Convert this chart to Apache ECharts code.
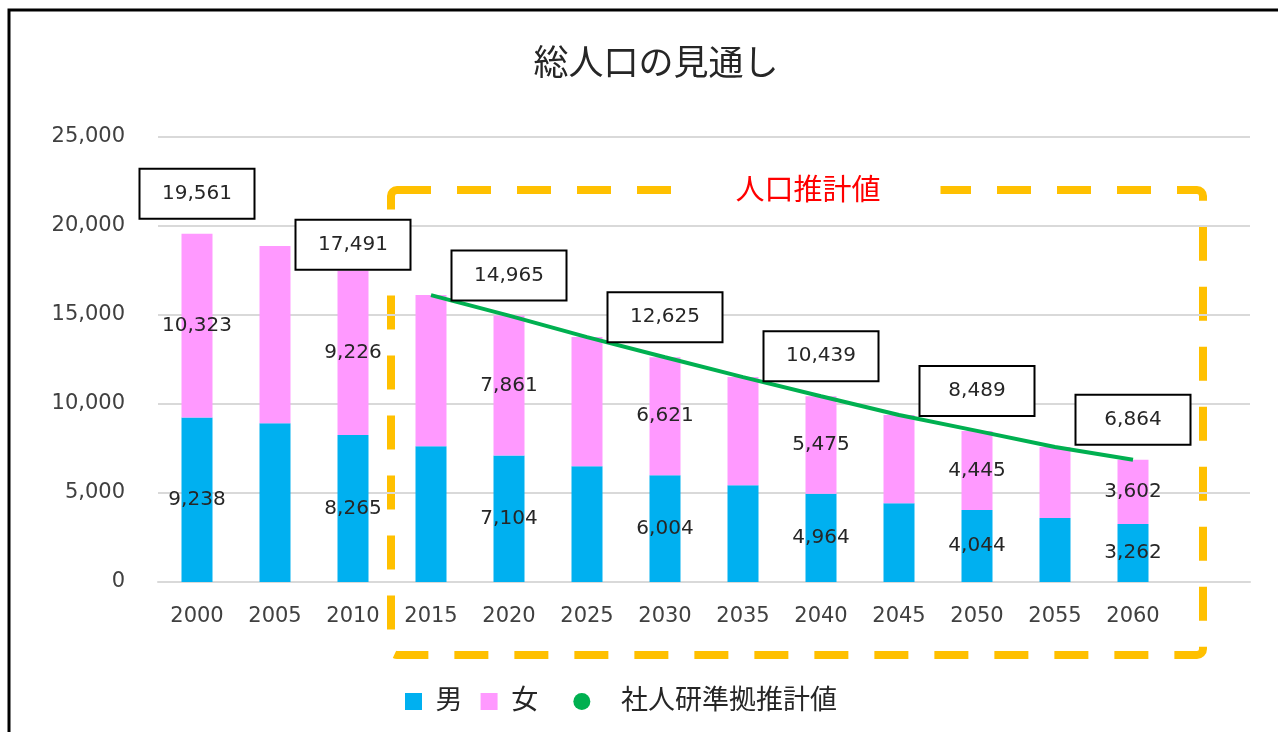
<!DOCTYPE html>
<html>
<head>
<meta charset="utf-8">
<script src="https://cdn.jsdelivr.net/npm/echarts@6/dist/echarts.min.js"></script>
<style>
html, body { margin: 0; padding: 0; background: #fff; }
#main { width: 1278px; height: 732px; }
</style>
</head>
<body>
<div id="main"></div>
<script>
var years = ['2000', '2005', '2010', '2015', '2020', '2025', '2030', '2035', '2040', '2045', '2050', '2055', '2060'];
var male = [9238, 8920, 8265, 7630, 7104, 6500, 6004, 5440, 4964, 4430, 4044, 3590, 3262];
var female = [10323, 9950, 9226, 8490, 7861, 7260, 6621, 6070, 5475, 4950, 4445, 3990, 3602];
var totals = [19561, null, 17491, null, 14965, null, 12625, null, 10439, null, 8489, null, 6864];
var projection = [null, null, null, 16120, 14965, 13760, 12625, 11510, 10439, 9380, 8489, 7580, 6864];
var yTicks = [0, 5000, 10000, 15000, 20000, 25000];

var FONT = '"DejaVu Sans", "Noto Sans CJK JP", sans-serif';

var dom = document.getElementById('main');
var myChart = echarts.init(dom);

function fmt(v) { return Number(v).toLocaleString('en-US'); }

// labels only every 10 years
function withLabels(arr) {
    return arr.map(function (v, i) {
        return { value: v, label: { show: i % 2 === 0 } };
    });
}

// zero-height bar on top of the stack, carries the total box
var boxData = totals.map(function (v, i) {
    var item = { value: 0, label: { show: v != null } };
    if (i === 2) item.label.offset = [0, 14];
    return item;
});

option = {
    animation: false,
    textStyle: { fontFamily: FONT },
    title: {
        text: '総人口の見通し',
        left: 651,
        textAlign: 'center',
        top: 43,
        textStyle: { fontSize: 35, fontWeight: 'normal', color: '#262626', fontFamily: FONT }
    },
    grid: { left: 158, right: 28, top: 137, bottom: 150 },
    legend: {
        left: 400,
        top: 683,
        itemWidth: 17,
        itemHeight: 17,
        itemGap: 18,
        selectedMode: false,
        textStyle: { fontSize: 27, color: '#262626', fontFamily: FONT },
        formatter: function (name) {
            if (name === '女') return ' ' + name + '  ';
            if (name === '男') return ' ' + name;
            return '   ' + name;
        },
        data: [
            { name: '男', icon: 'rect' },
            { name: '女', icon: 'rect' },
            { name: '社人研準拠推計値', icon: 'circle' }
        ]
    },
    xAxis: {
        type: 'category',
        data: years.concat(['']),
        axisLine: { lineStyle: { color: '#D9D9D9', width: 2 } },
        axisTick: { show: false },
        axisLabel: { fontSize: 21, color: '#404040', margin: 24, fontFamily: FONT }
    },
    yAxis: {
        type: 'value',
        min: yTicks[0],
        max: yTicks[yTicks.length - 1],
        interval: 5000,
        axisLine: { show: false },
        axisTick: { show: false },
        splitLine: { lineStyle: { color: '#D9D9D9', width: 2 } },
        axisLabel: {
            fontSize: 21, color: '#404040', margin: 33, fontFamily: FONT,
            formatter: fmt
        }
    },
    graphic: [
        {
            type: 'rect',
            shape: { x: 9, y: 10, width: 1300, height: 800 },
            style: { fill: 'none', stroke: '#000', lineWidth: 3 },
            silent: true
        },
        {
            type: 'rect',
            shape: { x: 391, y: 190, width: 812, height: 465, r: 6 },
            style: { fill: 'none', stroke: '#FFC000', lineWidth: 8, lineDash: [34, 26] },
            silent: true
        },
        {
            type: 'text',
            x: 808,
            y: 192,
            style: {
                text: '人口推計値',
                fill: '#FF0000',
                fontSize: 29,
                fontFamily: FONT,
                align: 'center',
                verticalAlign: 'middle',
                backgroundColor: '#fff',
                padding: [4, 60, 4, 60]
            }
        }
    ],
    series: [
        {
            name: '男',
            type: 'bar',
            stack: 'pop',
            barWidth: 31,
            silent: true,
            emphasis: { disabled: true },
            itemStyle: { color: '#00B0F0' },
            label: {
                position: 'inside',
                fontSize: 20,
                color: '#262626',
                fontFamily: FONT,
                formatter: function (p) { return fmt(p.value); }
            },
            data: withLabels(male)
        },
        {
            name: '女',
            type: 'bar',
            stack: 'pop',
            barWidth: 31,
            silent: true,
            emphasis: { disabled: true },
            itemStyle: { color: '#FF99FF' },
            label: {
                position: 'inside',
                fontSize: 20,
                color: '#262626',
                fontFamily: FONT,
                formatter: function (p) { return fmt(p.value); }
            },
            data: withLabels(female)
        },
        {
            name: 'total',
            type: 'bar',
            stack: 'pop',
            barWidth: 31,
            silent: true,
            z: 5,
            emphasis: { disabled: true },
            itemStyle: { color: 'transparent' },
            label: {
                position: 'top',
                distance: 40,
                fontSize: 20,
                color: '#262626',
                fontFamily: FONT,
                backgroundColor: '#fff',
                borderColor: '#000',
                borderWidth: 2,
                width: 113,
                height: 48,
                lineHeight: 48,
                align: 'center',
                verticalAlign: 'middle',
                formatter: function (p) { return fmt(totals[p.dataIndex]); }
            },
            data: boxData
        },
        {
            name: '社人研準拠推計値',
            type: 'line',
            symbol: 'none',
            silent: true,
            emphasis: { disabled: true },
            itemStyle: { color: '#00B050' },
            lineStyle: { color: '#00B050', width: 4 },
            z: 4,
            data: projection
        }
    ]
};
myChart.setOption(option);
</script>
</body>
</html>
